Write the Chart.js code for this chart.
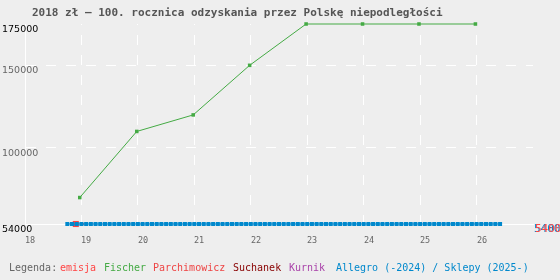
<!DOCTYPE html>
<html>
<head>
<meta charset="utf-8">
<script src="https://cdn.jsdelivr.net/npm/chart.js@4"></script>
<style>
  html, body { margin: 0; padding: 0; background: #eee; }
  #chart { display: block; }
</style>
</head>
<body>
<canvas id="chart" width="560" height="280"></canvas>
<script>
// ---------- Data ----------
const title = "2018 zł – 100. rocznica odzyskania przez Polskę niepodległości";
const xTicks = [18, 19, 20, 21, 22, 23, 24, 25, 26];
const yTicks = [54000, 100000, 150000, 175000];

const emisjaX = [18.9];
const emisjaY = [54000];

const fischerX = [18.97, 19.98, 20.98, 21.98, 22.98, 23.98, 24.98, 25.98];
const fischerY = [70000, 110000, 120000, 150000, 175000, 175000, 175000, 175000];

const parchimowiczX = [19.02];
const parchimowiczY = [54000];

const suchanekX = [];
const suchanekY = [];
const kurnikX = [];
const kurnikY = [];

// Allegro / Sklepy - one price per month, first month 2018-10
const allegroStartYear = 18;
const allegroStartMonth = 10;
const allegroY = [
  54000, 54000, 54000,
  54000, 54000, 54000, 54000, 54000, 54000, 54000, 54000, 54000, 54000, 54000, 54000,
  54000, 54000, 54000, 54000, 54000, 54000, 54000, 54000, 54000, 54000, 54000, 54000,
  54000, 54000, 54000, 54000, 54000, 54000, 54000, 54000, 54000, 54000, 54000, 54000,
  54000, 54000, 54000, 54000, 54000, 54000, 54000, 54000, 54000, 54000, 54000, 54000,
  54000, 54000, 54000, 54000, 54000, 54000, 54000, 54000, 54000, 54000, 54000, 54000,
  54000, 54000, 54000, 54000, 54000, 54000, 54000, 54000, 54000, 54000, 54000, 54000,
  54000, 54000, 54000, 54000, 54000, 54000, 54000, 54000, 54000, 54000, 54000, 54000,
  54000, 54000, 54000, 54000, 54000, 54000
];

const legendNames = ["emisja", "Fischer", "Parchimowicz", "Suchanek", "Kurnik", "Allegro (-2024) / Sklepy (2025-)"];
const legendColors = ["#f44", "#4a4", "#e44", "#800", "#a4a", "#08c"];

// ---------- Helpers ----------
const pts = (xs, ys) => xs.map((x, i) => ({ x: x, y: ys[i] }));
const allegroX = allegroY.map((_, i) => allegroStartYear + (allegroStartMonth - 1 + i) / 12);

const series = (label, data, color, radius) => ({
  label: label,
  data: data,
  borderColor: color,
  backgroundColor: color,
  borderWidth: 1,
  pointStyle: "rect",
  pointRadius: radius,
  pointBorderWidth: 0,
  pointBackgroundColor: color,
  showLine: true,
  tension: 0,
  clip: false
});

// ---------- Texts (title, axis labels, legend) ----------
const textPlugin = {
  id: "texts",
  afterDraw(chart) {
    const { ctx, scales: { x, y } } = chart;
    ctx.save();
    ctx.textBaseline = "alphabetic";
    ctx.textAlign = "left";

    ctx.font = "bold 11px 'DejaVu Sans Mono'";
    ctx.fillStyle = "#555";
    ctx.fillText(title, 32, 16);

    ctx.font = "9.5px 'DejaVu Sans'";
    yTicks.forEach(v => {
      ctx.fillStyle = (v === 100000 || v === 150000) ? "#666" : "#000";
      ctx.fillText(String(v), 2, y.getPixelForValue(v) + 8);
    });

    ctx.font = "8.5px 'DejaVu Sans Mono'";
    ctx.fillStyle = "#666";
    xTicks.forEach(v => ctx.fillText(String(v), Math.round(x.getPixelForValue(v)), 242.5));

    // last values on the right
    ctx.font = "11px 'DejaVu Sans Mono'";
    ctx.fillStyle = legendColors[5];
    ctx.fillText(String(allegroY[allegroY.length - 1]), 534, y.getPixelForValue(allegroY[allegroY.length - 1]) + 8);
    ctx.fillStyle = legendColors[0];
    ctx.fillText(String(emisjaY[emisjaY.length - 1]), 535, y.getPixelForValue(emisjaY[emisjaY.length - 1]) + 8);

    // legend
    ctx.font = "10px 'DejaVu Sans Mono'";
    ctx.fillStyle = "#666";
    ctx.fillText("Legenda:", 9, 271);
    const legendX = [60, 104, 153, 233, 289, 336];
    legendNames.forEach((n, i) => {
      ctx.fillStyle = legendColors[i];
      ctx.fillText(n, legendX[i], 271);
    });
    ctx.restore();
  }
};

// ---------- Chart ----------
new Chart(document.getElementById("chart"), {
  type: "line",
  data: {
    datasets: [
      series("Allegro (-2024) / Sklepy (2025-)", pts(allegroX, allegroY), legendColors[5], 2.85),
      series("Parchimowicz", pts(parchimowiczX, parchimowiczY), legendColors[2], 1.6),
      series("emisja", pts(emisjaX, emisjaY), legendColors[0], 4.3),
      series("Suchanek", pts(suchanekX, suchanekY), legendColors[3], 2.5),
      series("Kurnik", pts(kurnikX, kurnikY), legendColors[4], 2.5),
      series("Fischer", pts(fischerX, fischerY), legendColors[1], 2.5)
    ]
  },
  options: {
    responsive: false,
    animation: false,
    layout: { padding: { left: 25, right: 27, top: 24, bottom: 56 } },
    plugins: { legend: { display: false }, tooltip: { enabled: false } },
    scales: {
      x: {
        type: "linear",
        min: 18,
        max: 27,
        afterBuildTicks: s => { s.ticks = xTicks.map(v => ({ value: v })); },
        ticks: { display: false },
        grid: {
          drawTicks: false,
          lineWidth: 1,
          color: c => (c.tick && c.tick.value === 18) ? "rgba(0,0,0,0)" : "#fff"
        },
        border: { display: true, color: "#fff", width: 1, dash: [10, 10], dashOffset: 9 }
      },
      y: {
        type: "linear",
        min: 54000,
        max: 175000,
        afterBuildTicks: s => { s.ticks = yTicks.map(v => ({ value: v })); },
        ticks: { display: false },
        grid: {
          drawTicks: false,
          lineWidth: 1,
          color: c => (c.tick && (c.tick.value === 100000 || c.tick.value === 150000)) ? "#fff" : "rgba(0,0,0,0)"
        },
        border: { display: true, color: "#fff", width: 1, dash: [10, 10], dashOffset: 0 }
      }
    }
  },
  plugins: [textPlugin]
});
</script>
</body>
</html>
